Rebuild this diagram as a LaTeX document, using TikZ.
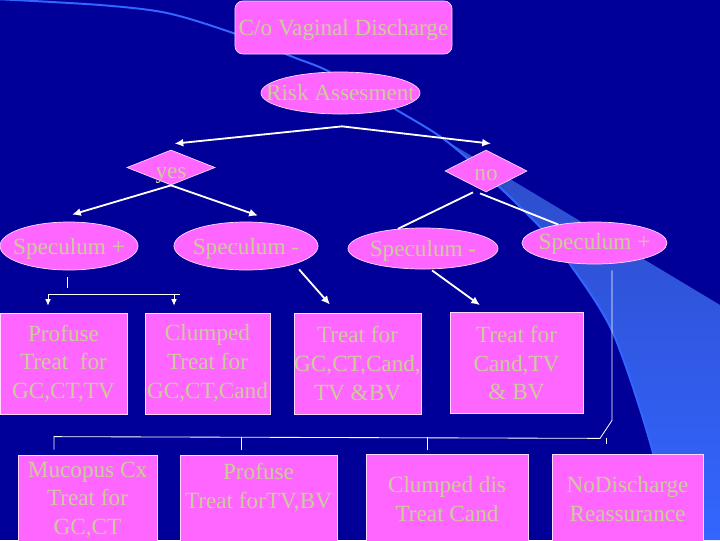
\documentclass[tikz,border=0pt]{standalone}
\usepackage{fontspec}
\setmainfont{Liberation Serif}
\usetikzlibrary{positioning,arrows.meta,shapes.geometric,calc}
\definecolor{cnavy}{RGB}{0,0,153}
\definecolor{cpink}{RGB}{255,102,255}
\definecolor{cedge}{RGB}{255,215,255}
\definecolor{ctext}{RGB}{204,204,153}
\definecolor{cswoosh}{RGB}{51,102,255}
\definecolor{cswooshdark}{RGB}{45,75,200}
\newcommand{\squeeze}[1]{\makebox[0pt]{#1}}
\newcommand{\dropby}[2]{\raisebox{-#1}[\height][\depth]{#2}}

\begin{document}
\begin{tikzpicture}[
  x=0.025cm, y=-0.025cm,
  font=\fontsize{16.5}{20.5}\selectfont,
  base/.style={fill=cpink, draw=cedge, line width=0.5pt, text=ctext, inner sep=0pt, align=center},
  box/.style={base, rectangle},
  oval/.style={base, ellipse},
  choice/.style={base, diamond},
  link/.style={draw=white, line width=1.3pt},
  wire/.style={draw=white, line width=0.6pt, >={Latex[length=1.6mm,width=1.4mm]}},
  >={Latex[length=2.2mm,width=2mm]}
]
\useasboundingbox (0,0) rectangle (720,540);

% BACKGROUND
\fill[cnavy] (0,0) rectangle (720,540);
\shade[top color=cswooshdark, middle color=cswoosh, bottom color=cswoosh]
  (445,140) -- (720,305) -- (720,540) -- (668,540)
  -- plot[smooth] coordinates {(668,540) (653,453) (613,333) (567,260) (540,227) (495,183) (445,140)} -- cycle;
\draw[cswoosh, line width=1.4pt] plot[smooth] coordinates {(-5,-1) (100,5) (167,13) (233,33) (293,57) (330,72) (400,112) (445,140) (495,183) (540,227) (567,260) (613,333) (653,453) (668,540)};

% TOP
\node[box, rounded corners=2mm, minimum width=5.425cm, minimum height=1.325cm] (complaint) at (343.5,27.5) {\dropby{2pt}{C/o Vaginal Discharge}};
\node[oval, minimum width=3.975cm, minimum height=1.05cm] (risk) at (340.5,93) {\squeeze{Risk Assesment}};
\node[choice, shape aspect=2.5, minimum width=2.2cm, minimum height=0.875cm] (yes) at (171,167.5) {\dropby{5.5pt}{yes}};
\node[choice, shape aspect=2, minimum width=2.05cm, minimum height=1.05cm] (no) at (486,171) {\dropby{3pt}{no}};

% SPECULUM
\node[oval, minimum width=3.45cm, minimum height=1.2cm] (specA) at (69,246) {\squeeze{\dropby{2pt}{Speculum +}}};
\node[oval, minimum width=3.6cm, minimum height=1.2cm] (specB) at (246,246) {\squeeze{\dropby{2pt}{Speculum -}}};
\node[oval, minimum width=3.75cm, minimum height=1.025cm] (specC) at (423,248.5) {\squeeze{\dropby{2pt}{Speculum -}}};
\node[oval, minimum width=3.625cm, minimum height=1.05cm] (specD) at (594.5,243) {\squeeze{\dropby{1pt}{Speculum +}}};

% TREATMENT
\node[box, minimum width=3.175cm, minimum height=2.525cm] (boxA) at (63.5,363.5) {Profuse\\Treat~ for\\GC,CT,TV};
\node[box, minimum width=3.125cm, minimum height=2.525cm] (boxB) at (207.5,363.5) {Clumped\\Treat for\\GC,CT,Cand};
\node[box, minimum width=3.175cm, minimum height=2.525cm] (boxC) at (357.5,363.5) {Treat for\\GC,CT,Cand,\\TV \&BV};
\node[box, minimum width=3.325cm, minimum height=2.525cm] (boxD) at (516.5,363) {Treat for\\Cand,TV\\\& BV};

\node[box, minimum width=3.475cm, minimum height=2.25cm] (boxE) at (87.5,500) {Mucopus Cx\\Treat for\\GC,CT};
\node[box, minimum width=3.925cm, minimum height=2.25cm] (boxF) at (258.5,500) {Profuse\\Treat forTV,BV\\\mbox{}};
\node[box, minimum width=4.05cm, minimum height=2.25cm] (boxG) at (447,499) {Clumped dis\\Treat Cand};
\node[box, minimum width=3.775cm, minimum height=2.25cm] (boxH) at (627.5,499) {NoDischarge\\Reassurance};

% CONNECTORS
\coordinate (split) at ($(risk.south)+(1.5,12)$);
\draw[link,->] (split) -- ($(yes.north)+(3.5,-6)$);
\draw[link,->] (split) -- ($(no.north)+(5,-6)$);
\draw[link,->] (yes.south) -- ($(specA.north)+(3,-7)$);
\draw[link,->] (yes.south) -- ($(specB.north)+(12,-6)$);
\draw[link] ($(no.south)+(-13,0)$) -- (specC.142);
\draw[link] ($(no.south)+(-6,1)$) -- (specD.153);

\draw[wire] ($(specA.south)+(-2,7)$) -- ++(0,11);
\coordinate (forkL) at ($(boxA.north)+(-15.5,-18.5)$);
\coordinate (forkR) at ($(boxB.north)+(-27.5,-18.5)$);
\draw[wire] (forkL) -- (forkR);
\draw[wire,->] (forkL) -- ++(0,11.5);
\draw[wire,->] ($(forkR)+(-6,0)$) -- ++(0,11.5);

\draw[link,->] ($(specB.south)+(53,-1)$) -- ($(boxC.north)+(-27.5,-8)$);
\draw[link,->] ($(specC.south)+(9,1)$) -- ($(boxD.north)+(-36.5,-7)$);

\coordinate (busTop) at ($(specD.south)+(17.5,6)$);
\coordinate (busKnee) at ($(busTop)+(0,150)$);
\coordinate (busCorner) at ($(busKnee)+(-12,18)$);
\coordinate (busEnd) at ($(boxE.north)+(-33.5,-18)$);
\draw[wire] (busTop) -- (busKnee) -- (busCorner) -- (busEnd) -- ++(0,13);
\draw[wire] ($(busEnd -| boxF.north)+(-17.5,0)$) -- ++(0,13);
\draw[wire] ($(busEnd -| boxG.north)+(-20,0)$) -- ++(0,13);
\draw[wire] ($(busEnd -| boxH.north)+(-21.5,1)$) -- ++(0,6);

\end{tikzpicture}
\end{document}
